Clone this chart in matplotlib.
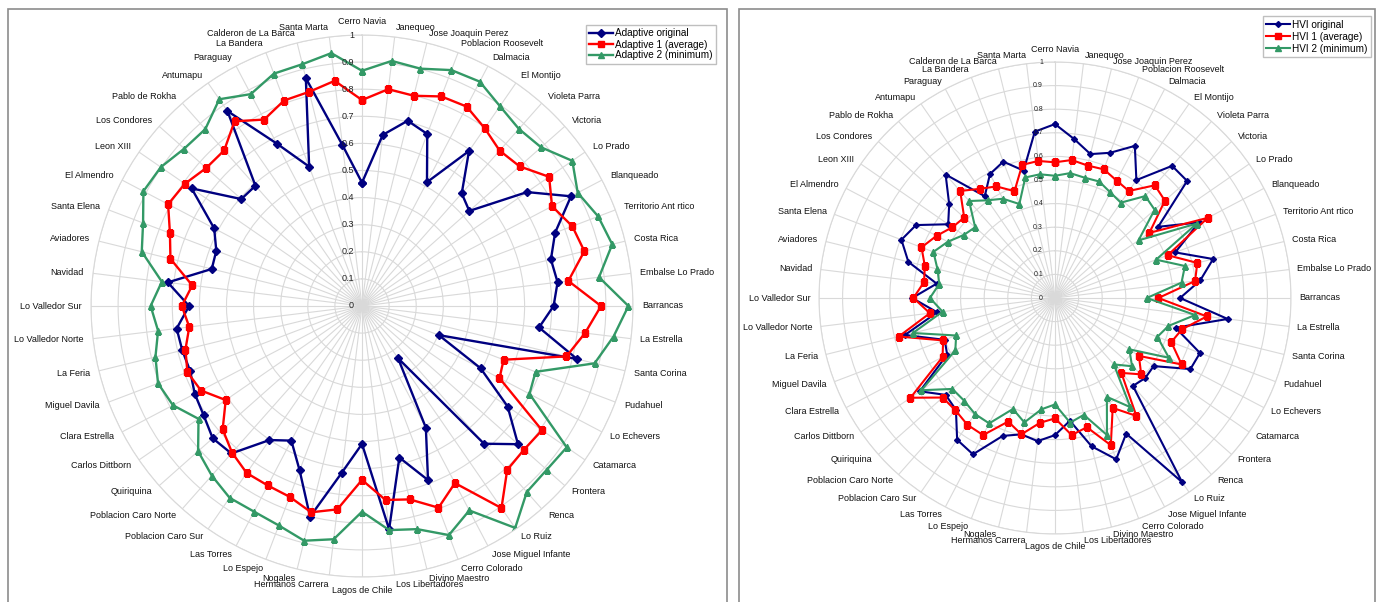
import numpy as np
import matplotlib.pyplot as plt
from matplotlib.patches import Rectangle

plt.rcParams["font.family"] = ["Liberation Sans", "DejaVu Sans"]

sectors = [
    "Cerro Navia", "Janequeo", "Jose Joaquin Perez", "Poblacion Roosevelt",
    "Dalmacia", "El Montijo", "Violeta Parra", "Victoria", "Lo Prado",
    "Blanqueado", "Territorio Ant rtico", "Costa Rica", "Embalse Lo Prado",
    "Barrancas", "La Estrella", "Santa Corina", "Pudahuel", "Lo Echevers",
    "Catamarca", "Frontera", "Renca", "Lo Ruiz", "Jose Miguel Infante",
    "Cerro Colorado", "Divino Maestro", "Los Libertadores", "Lagos de Chile",
    "Hermanos Carrera", "Nogales", "Lo Espejo", "Las Torres",
    "Poblacion Caro Sur", "Poblacion Caro Norte", "Quiriquina",
    "Carlos Dittborn", "Clara Estrella", "Miguel Davila", "La Feria",
    "Lo Valledor Norte", "Lo Valledor Sur", "Navidad", "Aviadores",
    "Santa Elena", "El Almendro", "Leon XIII", "Los Condores",
    "Pablo de Rokha", "Antumapu", "Paraguay", "La Bandera",
    "Calderon de La Barca", "Santa Marta",
]

# adaptive capacity index
adaptive_orig = [
    0.455, 0.636, 0.704, 0.679, 0.516, 0.695, 0.555, 0.529, 0.740, 0.871,
    0.762, 0.718, 0.727, 0.707, 0.658, 0.817, 0.303, 0.494, 0.653, 0.769,
    0.679, 0.234, 0.507, 0.687, 0.576, 0.830, 0.509, 0.620, 0.801, 0.649,
    0.561, 0.601, 0.727, 0.736, 0.710, 0.697, 0.678, 0.683, 0.689, 0.638,
    0.722, 0.571, 0.575, 0.616, 0.764, 0.595, 0.593, 0.874, 0.677, 0.550,
    0.866, 0.598,
]
adaptive_avg = [
    0.760, 0.806, 0.799, 0.827, 0.831, 0.797, 0.766, 0.777, 0.839, 0.792,
    0.830, 0.845, 0.767, 0.882, 0.829, 0.777, 0.559, 0.573, 0.807, 0.799,
    0.808, 0.906, 0.738, 0.796, 0.735, 0.721, 0.642, 0.756, 0.784, 0.753,
    0.748, 0.749, 0.723, 0.687, 0.611, 0.671, 0.689, 0.671, 0.642, 0.665,
    0.631, 0.728, 0.758, 0.808, 0.794, 0.768, 0.767, 0.828, 0.777, 0.811,
    0.814, 0.837,
]
adaptive_min = [
    0.868, 0.911, 0.902, 0.931, 0.935, 0.896, 0.873, 0.883, 0.943, 0.899,
    0.932, 0.951, 0.881, 0.983, 0.935, 0.884, 0.685, 0.698, 0.918, 0.911,
    0.917, 0.995, 0.852, 0.904, 0.848, 0.833, 0.759, 0.867, 0.892, 0.866,
    0.857, 0.860, 0.836, 0.808, 0.733, 0.788, 0.805, 0.785, 0.758, 0.780,
    0.744, 0.837, 0.864, 0.911, 0.902, 0.876, 0.872, 0.927, 0.883, 0.917,
    0.919, 0.940,
]

# heat vulnerability index
hvi_orig = [
    0.737, 0.678, 0.628, 0.658, 0.728, 0.607, 0.748, 0.748, 0.531, 0.689,
    0.545, 0.690, 0.620, 0.530, 0.737, 0.526, 0.657, 0.648, 0.508, 0.511,
    0.498, 0.948, 0.649, 0.731, 0.647, 0.524, 0.581, 0.611, 0.595, 0.625,
    0.748, 0.730, 0.633, 0.619, 0.696, 0.516, 0.500, 0.655, 0.503, 0.605,
    0.505, 0.640, 0.696, 0.665, 0.550, 0.599, 0.699, 0.524, 0.593, 0.618,
    0.556, 0.710,
]
hvi_avg = [
    0.575, 0.589, 0.578, 0.583, 0.562, 0.551, 0.638, 0.622, 0.486, 0.731,
    0.511, 0.621, 0.598, 0.438, 0.648, 0.554, 0.527, 0.606, 0.432, 0.488,
    0.424, 0.607, 0.526, 0.667, 0.564, 0.585, 0.510, 0.533, 0.595, 0.560,
    0.656, 0.653, 0.636, 0.636, 0.744, 0.538, 0.507, 0.682, 0.534, 0.600,
    0.559, 0.568, 0.605, 0.567, 0.528, 0.514, 0.606, 0.562, 0.534, 0.484,
    0.581, 0.585,
]
hvi_min = [
    0.518, 0.533, 0.525, 0.528, 0.505, 0.491, 0.577, 0.564, 0.430, 0.679,
    0.458, 0.567, 0.540, 0.389, 0.598, 0.495, 0.464, 0.545, 0.383, 0.436,
    0.376, 0.562, 0.473, 0.621, 0.510, 0.532, 0.451, 0.475, 0.543, 0.503,
    0.600, 0.597, 0.581, 0.581, 0.688, 0.477, 0.448, 0.620, 0.480, 0.530,
    0.494, 0.513, 0.551, 0.513, 0.470, 0.452, 0.549, 0.503, 0.475, 0.426,
    0.526, 0.528,
]

NAVY = "#000080"
RED = "#ff0000"
GREEN = "#339966"
GRID = "#d9d9d9"


def radar(ax, series, names, ms, lw, tick_dx, tick_fs):
    theta = np.linspace(0, 2 * np.pi, len(sectors), endpoint=False)
    ax.set_theta_zero_location("N")
    ax.set_theta_direction(-1)
    ax.set_axisbelow(True)

    styles = [(NAVY, "D", ms[0]), (RED, "s", ms[1]), (GREEN, "^", ms[2])]
    for values, name, (color, marker, size) in zip(series, names, styles):
        t = np.append(theta, theta[0])
        v = np.append(values, values[0])
        ax.plot(t, v, color=color, lw=lw, marker=marker, ms=size,
                mec=color, mfc=color, label=name)

    ax.set_ylim(0, 1)
    ax.set_xticks(theta)
    ax.set_xticklabels([])
    ax.set_yticks(np.arange(1, 11) / 10)
    ax.set_yticklabels([])
    ax.grid(color=GRID, lw=0.8)
    ax.spines["polar"].set_color(GRID)
    ax.spines["polar"].set_linewidth(0.8)

    for t, name in zip(theta, sectors):
        s = np.sin(t)
        if abs(s) < 1e-6:
            ha = "center"
            va = "bottom" if np.cos(t) > 0 else "top"
        else:
            ha = "left" if s > 0 else "right"
            va = "center"
        ax.text(t, 1.034, name, ha=ha, va=va, fontsize=6.5, color="#111111")

    for k in range(11):
        ax.annotate(f"{k / 10:g}", xy=(0, k / 10), xytext=(tick_dx, 0),
                    textcoords="offset pixels", ha="right", va="center",
                    fontsize=tick_fs, color="#222222")


fig = plt.figure(figsize=(13.82, 6.02), dpi=100)
W, H = 1382, 602

# chart area frames
for x0, x1 in [(8, 727), (739, 1375)]:
    fig.patches.append(Rectangle((x0 / W, -0.02), (x1 - x0) / W, 1 - 9 / H + 0.02,
                                 transform=fig.transFigure, fill=False,
                                 edgecolor="#8c8c8c", lw=1.2))

# left: adaptive capacity, centre (362, 306), radius 271 px
ax1 = fig.add_axes([(362 - 271) / W, 1 - (306 + 271) / H, 542 / W, 542 / H],
                   projection="polar")
radar(ax1, [adaptive_orig, adaptive_avg, adaptive_min],
      ["Adaptive original", "Adaptive 1 (average)", "Adaptive 2 (minimum)"],
      ms=(3.6, 5.0, 5.0), lw=1.7, tick_dx=-8, tick_fs=6.5)
ax1.legend(loc="upper right", bbox_to_anchor=(716 / W, 1 - 25 / H),
           bbox_transform=fig.transFigure, fontsize=7.2, fancybox=False,
           edgecolor="#bfbfbf", framealpha=1, handlelength=2.4,
           labelspacing=0.1, borderpad=0.35, handletextpad=0.2,
           borderaxespad=0)

# right: heat vulnerability index, centre (1055, 298), radius 236 px
ax2 = fig.add_axes([(1055 - 236) / W, 1 - (298 + 236) / H, 472 / W, 472 / H],
                   projection="polar")
radar(ax2, [hvi_orig, hvi_avg, hvi_min],
      ["HVI original", "HVI 1 (average)", "HVI 2 (minimum)"],
      ms=(3.0, 4.3, 4.3), lw=1.5, tick_dx=-12, tick_fs=5)
ax2.legend(loc="upper right", bbox_to_anchor=(1371 / W, 1 - 16 / H),
           bbox_transform=fig.transFigure, fontsize=7.2, fancybox=False,
           edgecolor="#bfbfbf", framealpha=1, handlelength=2.4,
           labelspacing=0.2, borderpad=0.35, handletextpad=0.2,
           borderaxespad=0)

fig.savefig("out.png", dpi=100)
